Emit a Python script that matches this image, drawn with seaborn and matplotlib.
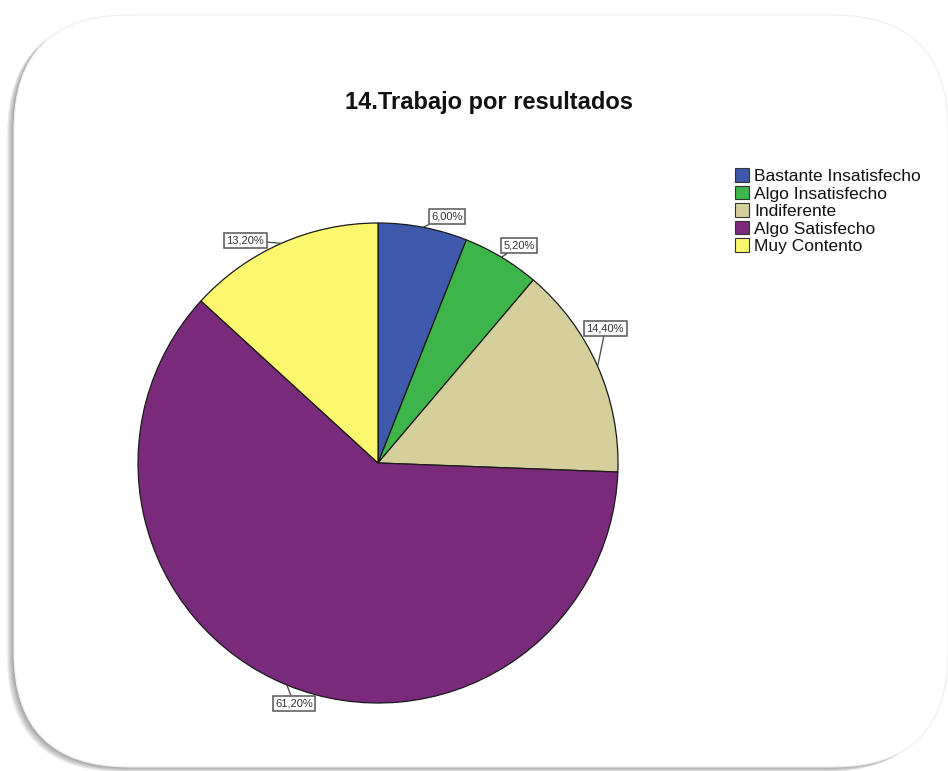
import numpy as np
import matplotlib
matplotlib.use("Agg")
import matplotlib.pyplot as plt
from matplotlib.patches import FancyBboxPatch, Patch
import seaborn as sns

# Survey answers for item 14
categories = ["Bastante Insatisfecho", "Algo Insatisfecho", "Indiferente",
              "Algo Satisfecho", "Muy Contento"]
percentages = [6.0, 5.2, 14.4, 61.2, 13.2]
title = "14.Trabajo por resultados"

colors = ["#3E58AC", "#3DB54A", "#D5CF9C", "#792A7B", "#FBF86F"]

sns.set_theme(style="white")
plt.rcParams["font.family"] = ["Liberation Sans", "DejaVu Sans"]

W, H = 948, 771
fig = plt.figure(figsize=(W / 100, H / 100), dpi=100)
fig.patch.set_facecolor("white")

# Background layer in pixel coordinates: rounded card with soft shadow
bg = fig.add_axes([0, 0, 1, 1])
bg.set_xlim(0, W)
bg.set_ylim(H, 0)
bg.axis("off")

card_x, card_y, card_w, card_h, rad = 14, 15, 934, 752, 115
for s in range(1, 10):
    bg.add_patch(FancyBboxPatch((card_x - s * 0.8, card_y + s * 0.55), card_w, card_h,
                                boxstyle=f"round,pad=0,rounding_size={rad}",
                                facecolor="#303030", edgecolor="none",
                                alpha=0.06, zorder=1))
bg.add_patch(FancyBboxPatch((card_x, card_y), card_w, card_h,
                            boxstyle=f"round,pad=0,rounding_size={rad}",
                            facecolor="white", edgecolor="#eeeeee",
                            linewidth=0.8, zorder=2))

bg.text(489, 103, title, ha="center", va="center", fontsize=17,
        fontweight="bold", color="#111111", zorder=5)

# Pie axes: centre (378, 463), radius 240 px
cx, cy, r = 378, 463, 240
ax = fig.add_axes([(cx - r) / W, (H - cy - r) / H, 2 * r / W, 2 * r / H])
ax.set_zorder(3)
wedges, _ = ax.pie(percentages, colors=colors, startangle=90, counterclock=False,
                   wedgeprops=dict(edgecolor="#1a1a1a", linewidth=0.9))
ax.set_xlim(-1, 1)
ax.set_ylim(-1, 1)
ax.set_aspect("auto")
ax.axis("off")

# Boxed value labels with short leader lines
label_shift = [-4.8, -2, 6.8, 3, 7]   # degrees, keeps boxes clear of each other
label_radius = [1.067, 1.08, 1.10, 1.06, 1.08]
for w, p, sh, lr in zip(wedges, percentages, label_shift, label_radius):
    mid = np.deg2rad((w.theta1 + w.theta2) / 2)
    ta = mid + np.deg2rad(sh)
    xy = (np.cos(mid), np.sin(mid))
    xt = (lr * np.cos(ta), lr * np.sin(ta))
    ax.annotate(f"{p:.2f}%".replace(".", ","), xy=xy, xytext=xt,
                ha="center", va="center", fontsize=8, color="#333333",
                bbox=dict(boxstyle="square,pad=0.22", facecolor="white",
                          edgecolor="#555555", linewidth=1.1),
                arrowprops=dict(arrowstyle="-", color="#444444", lw=0.9,
                                shrinkA=0, shrinkB=0),
                annotation_clip=False, zorder=6)

handles = [Patch(facecolor=c, edgecolor="#333333", linewidth=0.8) for c in colors]
leg = fig.legend(handles, categories, loc="upper left",
                 bbox_to_anchor=(723 / W, 1 - 156 / H), frameon=False,
                 fontsize=12.5, handlelength=0.8, handleheight=0.85,
                 handletextpad=0.3, labelspacing=0.09, borderpad=0.2)
for t in leg.get_texts():
    t.set_color("#111111")

fig.savefig("out.png", dpi=100, facecolor="white")
